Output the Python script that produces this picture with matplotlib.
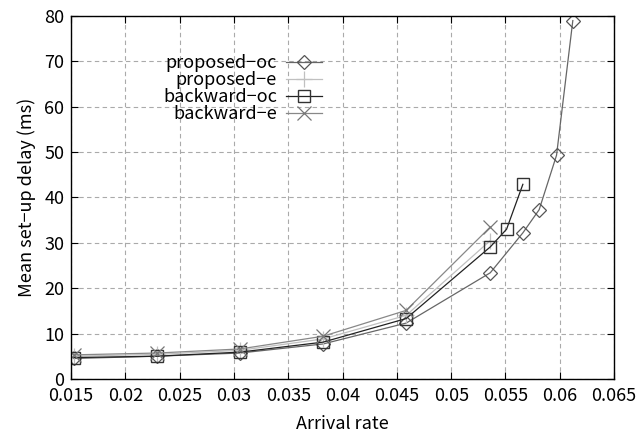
import matplotlib
matplotlib.use('Agg')
import matplotlib.pyplot as plt

plt.rcParams['font.family'] = ['Noto Sans CJK JP', 'DejaVu Sans']
plt.rcParams['font.size'] = 13

# arrival rates and mean set-up delays (ms)
rate_poc = [0.01525, 0.0229, 0.03055, 0.0382, 0.04585, 0.0536,
            0.0566, 0.0581, 0.0597, 0.0612]
rate_boc = [0.01525, 0.0229, 0.03055, 0.0382, 0.04585, 0.0536, 0.0551, 0.0566]
rate_e = [0.01525, 0.0229, 0.03055, 0.0382, 0.04585, 0.0536]

proposed_oc = [4.5, 5.0, 5.7, 7.7, 12.3, 23.4, 32.2, 37.3, 49.3, 79.0]
proposed_e = [5.0, 5.4, 6.3, 8.8, 14.0, 30.5]
backward_oc = [4.7, 5.0, 5.9, 8.1, 13.3, 29.1, 33.0, 42.9]
backward_e = [5.3, 5.7, 6.6, 9.4, 15.1, 33.5]

fig = plt.figure(figsize=(6.41, 4.34), dpi=100)
ax = fig.add_axes([0.111, 0.127, 0.847, 0.836])

ax.plot(rate_poc, proposed_oc, color='#666666', lw=0.9,
        marker='D', ms=7.5, mfc='none', mec='#555555', mew=0.9, label='proposed\u2212oc')
ax.plot(rate_e, proposed_e, color='#c0c0c0', lw=0.9,
        marker='+', ms=12, mec='#c0c0c0', mew=0.9, label='proposed\u2212e')
ax.plot(rate_boc, backward_oc, color='#222222', lw=0.9,
        marker='s', ms=9, mfc='none', mec='#333333', mew=1.0, label='backward\u2212oc')
ax.plot(rate_e, backward_e, color='#888888', lw=0.9,
        marker='x', ms=10, mec='#777777', mew=0.9, label='backward\u2212e')

ax.set_xlim(0.015, 0.065)
ax.set_ylim(0, 80)
ax.set_xticks([0.015, 0.02, 0.025, 0.03, 0.035, 0.04, 0.045, 0.05, 0.055, 0.06, 0.065])
ax.set_xticklabels(['0.015', '0.02', '0.025', '0.03', '0.035', '0.04', '0.045',
                    '0.05', '0.055', '0.06', '0.065'])
ax.set_yticks(range(0, 81, 10))
ax.tick_params(direction='in', top=True, right=True, length=5)
ax.tick_params(axis='x', pad=6)
ax.tick_params(axis='y', pad=5)
ax.grid(color='#aaaaaa', linestyle=(0, (4, 3)), lw=0.8)
for s in ax.spines.values():
    s.set_linewidth(1.0)

ax.set_xlabel('Arrival rate', labelpad=7)
ax.set_ylabel('Mean set\u2212up delay (ms)', labelpad=6)

ax.legend(loc='upper left', bbox_to_anchor=(0.156, 0.915), frameon=False,
          markerfirst=False, handlelength=2.0, labelspacing=-0.05,
          borderaxespad=0, handletextpad=0.5)

fig.savefig('out.png', dpi=100)
